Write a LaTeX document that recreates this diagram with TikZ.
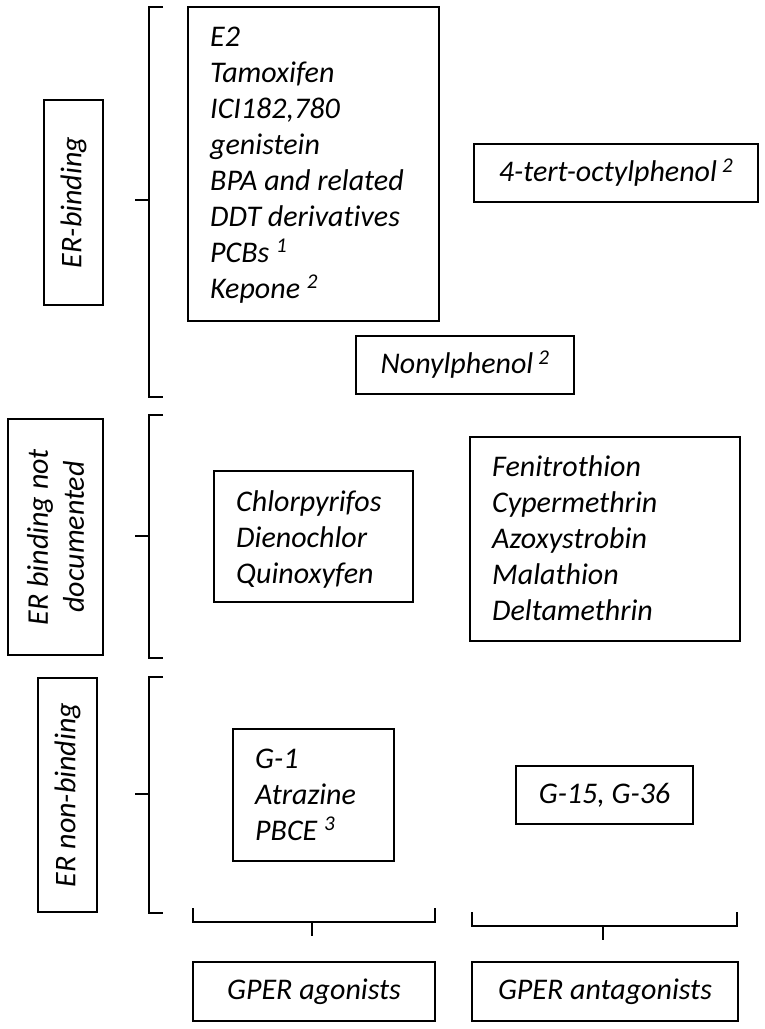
\documentclass[tikz,border=0pt]{standalone}
\usepackage{fontspec}
\setmainfont{Carlito}[Ligatures=NoCommon]
\newcommand\lbl{\fontsize{30}{36}\selectfont\itshape}
\tikzset{
  box/.style={draw=black, line width=2pt, inner sep=0pt},
  txt/.style={font=\lbl, align=left, inner sep=0pt, anchor=base west},
  side/.style={box, rotate=90, font=\lbl, align=center},
  brk/.style={draw=black, line width=1.4pt},
}
\begin{document}
\begin{tikzpicture}[x=1pt, y=-1pt]
\useasboundingbox (0,0) rectangle (765,1029);

% ---- left category labels
\node[side, minimum width=205, minimum height=59] (erb) at (73.5,202.5) {ER-binding};
\node[side, minimum width=236, minimum height=95] (erbnd) at (55.5,537) {ER binding not\\documented};
\node[side, minimum width=234, minimum height=59] (ernb) at (67.5,795) {ER non-binding};

% ---- left brackets
\draw[brk] (163,7) -- (149,7) -- (149,397) -- (163,397);
\draw[brk] (135,200) -- (149,200);
\draw[brk] (163,415) -- (149,415) -- (149,658) -- (163,658);
\draw[brk] (135,536) -- (149,536);
\draw[brk] (163,677) -- (149,677) -- (149,913) -- (163,913);
\draw[brk] (135,794) -- (149,794);

% ---- bottom brackets
\draw[brk] (193,908) -- (193,922) -- (435,922) -- (435,908);
\draw[brk] (312,922) -- (312,936);
\draw[brk] (472,912) -- (472,926) -- (737,926) -- (737,912);
\draw[brk] (603,926) -- (603,940);

% ---- ER-binding row (text nodes anchored at the baseline of their last line)
\node[box, minimum width=251, minimum height=314] (bigbox) at (313.5,164) {};
\node[txt] (bigtxt) at (210,298) {E2\\Tamoxifen\\ICI182,780\\genistein\\BPA and related\\DDT derivatives\\PCBs \textsuperscript{1}\\Kepone \textsuperscript{2}};
\node[box, font=\lbl, minimum width=284, minimum height=58] (octyl) at (616,173) {4-tert-octylphenol\,\textsuperscript{2}};
\node[box, font=\lbl, minimum width=218, minimum height=58] (nonyl) at (465,365) {Nonylphenol\,\textsuperscript{2}};

% ---- ER binding not documented row
\node[box, minimum width=199, minimum height=131] (chlbox) at (313.5,536.5) {};
\node[txt] (chltxt) at (236,583) {Chlorpyrifos\\Dienochlor\\Quinoxyfen};
\node[box, minimum width=270, minimum height=204] (fenbox) at (605,539) {};
\node[txt] (fentxt) at (492,620) {Fenitrothion\\Cypermethrin\\Azoxystrobin\\Malathion\\Deltamethrin};

% ---- ER non-binding row
\node[box, minimum width=161, minimum height=132] (g1box) at (313.5,795) {};
\node[txt] (g1txt) at (255,840) {G-1\\Atrazine\\PBCE \textsuperscript{3}};
\node[box, font=\lbl, minimum width=177, minimum height=58] (g15) at (604.5,795) {G-15, G-36};

% ---- bottom category labels
\node[box, font=\lbl, minimum width=242, minimum height=59] (agon) at (314,991.5) {GPER agonists};
\node[box, font=\lbl, minimum width=266, minimum height=59] (antag) at (605,991.5) {GPER antagonists};
\end{tikzpicture}
\end{document}
